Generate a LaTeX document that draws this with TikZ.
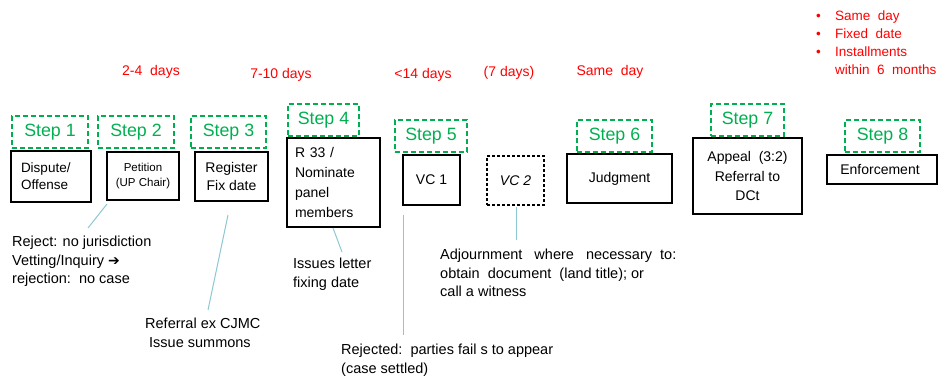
\documentclass[tikz,border=0pt]{standalone}
\usepackage{fontspec}
\setmainfont{Liberation Sans}
\newfontfamily\dejavu{DejaVu Sans}
\definecolor{stepgreen}{RGB}{0,176,80}
\definecolor{tealline}{RGB}{140,200,210}
\definecolor{redtxt}{RGB}{255,0,0}
\begin{document}
\begin{tikzpicture}[x=1pt,y=-1pt,
  stepbox/.style={draw=stepgreen, dash pattern=on 5pt off 3pt, line width=1.1pt,
    text=stepgreen, font=\fontsize{17.8}{20}\selectfont, inner sep=0pt},
  box/.style={draw=black, line width=1.4pt, inner sep=0pt,
    font=\fontsize{14}{18}\selectfont, align=center},
  note/.style={font=\fontsize{14.5}{18.5}\selectfont, align=left, anchor=north west, inner sep=0pt},
  redlbl/.style={text=redtxt, font=\fontsize{14}{17}\selectfont, inner sep=0pt},
  conn/.style={draw=tealline, line width=1pt}
]
\useasboundingbox (0,0) rectangle (939,379);

% step labels
\node[stepbox, minimum width=76pt, minimum height=32pt] (s1) at (50,132) {Step 1};
\node[stepbox, minimum width=76pt, minimum height=32pt] (s2) at (136,132) {Step 2};
\node[stepbox, minimum width=75pt, minimum height=32pt] (s3) at (228.5,132) {Step 3};
\node[stepbox, minimum width=71pt, minimum height=32pt] (s4) at (323.5,120) {Step 4};
\node[stepbox, minimum width=72pt, minimum height=32pt] (s5) at (431,136) {Step 5};
\node[stepbox, minimum width=75pt, minimum height=32pt] (s6) at (614.5,136) {Step 6};
\node[stepbox, minimum width=73pt, minimum height=32pt] (s7) at (747.5,120) {Step 7};
\node[stepbox, minimum width=75pt, minimum height=32pt] (s8) at (882.5,136) {Step 8};

% boxes
\node[box, minimum width=80pt, minimum height=51pt, text width=60pt, align=left,
  font=\fontsize{13.5}{17}\selectfont] (b1) at (51,176.5) {Dispute/\\Offense};
\node[box, minimum width=72pt, minimum height=48pt, font=\fontsize{11.5}{15}\selectfont] (b2) at (143,176) {Petition\\(UP Chair)};
\node[box, minimum width=73pt, minimum height=49pt] (b3) at (231.5,176.5) {Register\\Fix date};
\node[box, minimum width=93pt, minimum height=89pt, text width=77pt, align=left,
  font=\fontsize{14}{20}\selectfont] (b4) at (333.5,182.5) {R 33 /\\Nominate\\panel\\members};
\node[box, minimum width=57pt, minimum height=50pt] (b5) at (431.5,180) {VC 1};
\node[box, dash pattern=on 3pt off 2pt, line width=1.2pt, minimum width=57pt, minimum height=49pt,
  font=\fontsize{14}{18}\selectfont\itshape] (b6) at (515.5,180.5) {VC 2};
\node[box, minimum width=105pt, minimum height=49pt] (b7) at (619.5,178.5) {Judgment};
\node[box, minimum width=109pt, minimum height=76pt, font=\fontsize{14}{19.5}\selectfont] (b8) at (747.5,176) {Appeal\ \ (3:2)\\Referral to\\DCt};
\node[box, minimum width=110pt, minimum height=29pt] (b9) at (882,169.5) {Enforcement\hspace{4pt}};

% red durations
\node[redlbl] (d2) at (151,72) {2-4\ \ days};
\node[redlbl] (d3) at (281,75) {7-10 days};
\node[redlbl] (d5) at (423,75) {<14 days};
\node[redlbl] (d6) at (509,73) {(7 days)};
\node[redlbl] (d7) at (610,72) {Same\ \ day};
\node[note, text=redtxt, font=\fontsize{13.5}{18}\selectfont] (d8) at (816,10.5)
  {\makebox[19pt][l]{\textbullet}Same\ \ day\\
   \makebox[19pt][l]{\textbullet}Fixed\ \ date\\
   \makebox[19pt][l]{\textbullet}Installments\\
   \makebox[19pt][l]{}within\ \ 6\ \ months};

% notes
\node[note] (n2) at (12,236) {Reject: no jurisdiction\\Vetting/Inquiry {\dejavu\fontsize{14}{14}\selectfont ➔}\\rejection:\ \ no case};
\node[note] (n3) at (145,318) {Referral ex CJMC\\\hspace{4pt}Issue summons};
\node[note] (n4) at (293,258) {Issues letter\\fixing date};
\node[note] (n6) at (440,249) {Adjournment\ \ \ where\ \ \ necessary\ \ to:\\obtain\ \ document\ \ (land title); or\\call a witness};
\node[note] (n5) at (341,344) {Rejected:\ \ parties fail s to appear\\(case settled)};

% connectors
\coordinate (p2) at (107,204); \coordinate (q2) at (88,228);
\coordinate (p3) at (228,215); \coordinate (q3) at (208,310);
\coordinate (p4) at (333,228); \coordinate (q4) at (342,252);
\coordinate (p5) at (403,215); \coordinate (q5) at (403,335);
\coordinate (p6) at (516,207); \coordinate (q6) at (516,240);
\draw[conn] (p2) -- (q2);
\draw[conn] (p3) -- (q3);
\draw[conn] (p4) -- (q4);
\draw[conn] (p5) -- (q5);
\draw[conn] (p6) -- (q6);
\end{tikzpicture}
\end{document}
